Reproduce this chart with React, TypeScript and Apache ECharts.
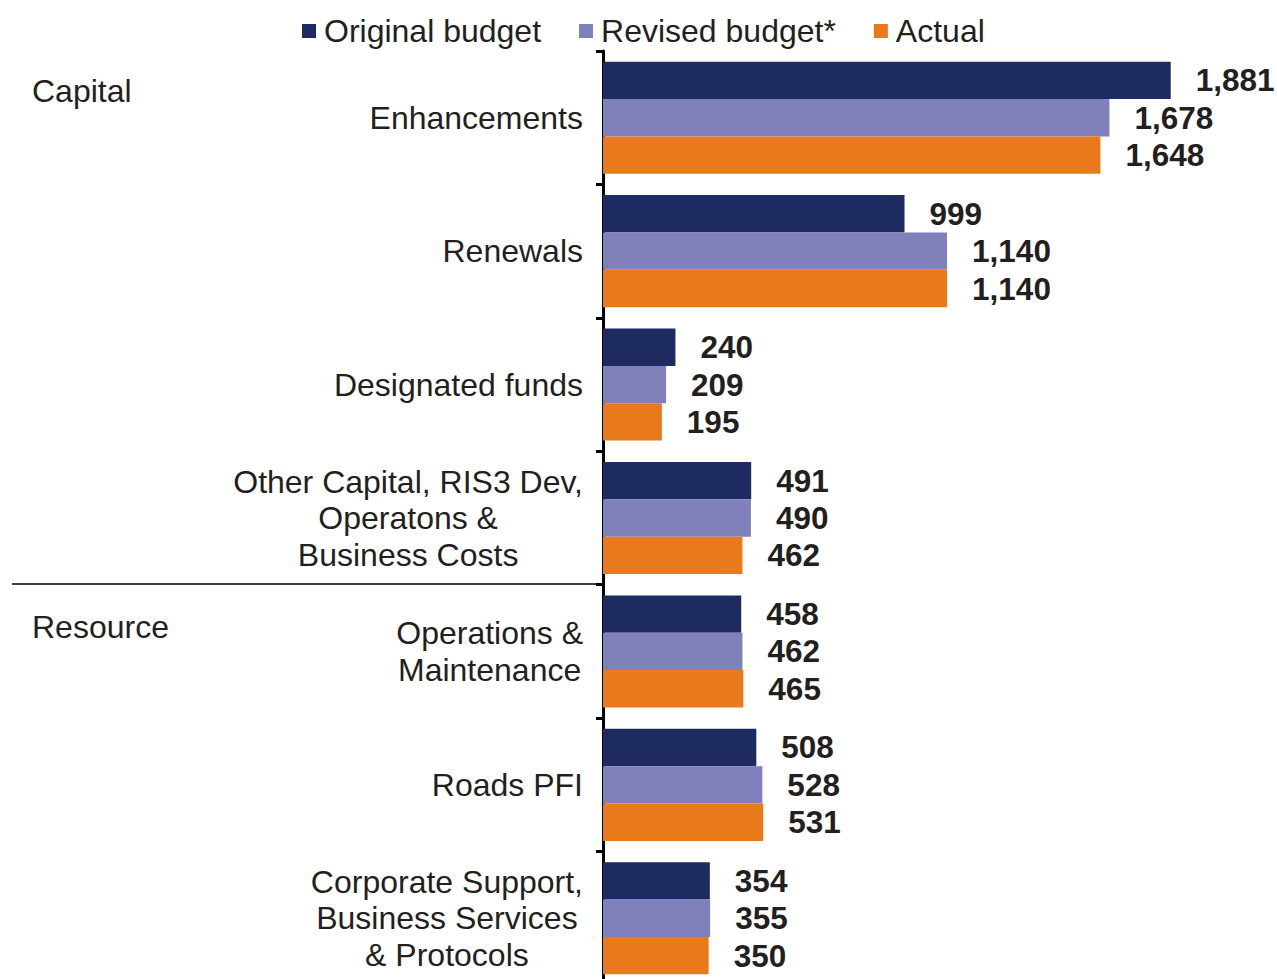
import React, { useEffect, useRef } from "react";
import * as echarts from "echarts";

const categories = [
  "Enhancements",
  "Renewals",
  "Designated funds",
  "Other Capital, RIS3 Dev,\nOperatons &\nBusiness Costs",
  "Operations &\nMaintenance",
  "Roads PFI",
  "Corporate Support,\nBusiness Services\n& Protocols",
];
const seriesNames = ["Original budget", "Revised budget*", "Actual"];
const originalBudget = [1881, 999, 240, 491, 458, 508, 354];
const revisedBudget = [1678, 1140, 209, 490, 462, 528, 355];
const actual = [1648, 1140, 195, 462, 465, 531, 350];
const groupLabels = ["Capital", "Resource"];

const colors = ["#1d2b61", "#8080bb", "#e97a1c"];
const textColor = "#231f20";
const FONT = "'Liberation Sans', Arial, sans-serif";

export default function App() {
  const ref = useRef<HTMLDivElement>(null);
  useEffect(() => {
    document.body.style.margin = "0";
    document.body.style.overflow = "hidden";
    if (!ref.current) return;
    const chart = echarts.init(ref.current, undefined, { renderer: "svg" });
    const values = [originalBudget, revisedBudget, actual];
    chart.setOption({
      animation: false,
      textStyle: { fontFamily: FONT, color: textColor },
      legend: {
        left: 297,
        top: 10,
        icon: "rect",
        itemWidth: 14,
        itemHeight: 14,
        itemGap: 38,
        textStyle: { fontSize: 32, color: textColor, fontFamily: FONT, padding: [0, 0, 0, 3] },
        data: seriesNames,
      },
      grid: { left: 603, top: 51, width: 664, height: 934, containLabel: false },
      xAxis: { type: "value", min: 0, max: 2200, show: false, splitLine: { show: false } },
      yAxis: {
        type: "category",
        inverse: true,
        data: categories,
        axisLine: { show: true, lineStyle: { color: "#000", width: 3 } },
        axisTick: { show: true, length: 7, lineStyle: { color: "#000", width: 3 } },
        axisLabel: {
          margin: 20,
          align: "right",
          formatter: (v: string) =>
            v
              .split("\n")
              .map((l) => "{c|" + l + "}")
              .join("\n"),
          rich: {
            c: {
              fontSize: 32,
              lineHeight: 36.5,
              align: "center",
              color: textColor,
              fontFamily: FONT,
            },
          },
        },
      },
      series: seriesNames.map((name, i) => ({
        name,
        type: "bar",
        data: values[i],
        barGap: "0%",
        barCategoryGap: "16%",
        itemStyle: { color: colors[i] },
        label: {
          show: true,
          position: "right",
          distance: 25,
          fontSize: 31.5,
          fontWeight: "bold",
          color: textColor,
          fontFamily: FONT,
          formatter: (p: any) => Number(p.value).toLocaleString("en-US"),
        },
      })),
      graphic: [
        {
          type: "text",
          left: 32,
          top: 75,
          style: { text: groupLabels[0], fontSize: 32, fill: textColor, fontFamily: FONT },
        },
        {
          type: "text",
          left: 32,
          top: 611,
          style: { text: groupLabels[1], fontSize: 32, fill: textColor, fontFamily: FONT },
        },
        {
          type: "line",
          shape: { x1: 12, y1: 584, x2: 601, y2: 584 },
          style: { stroke: "#000", lineWidth: 1.5 },
        },
      ],
    });
    return () => chart.dispose();
  }, []);
  return <div ref={ref} style={{ width: 1277, height: 990 }} />;
}
